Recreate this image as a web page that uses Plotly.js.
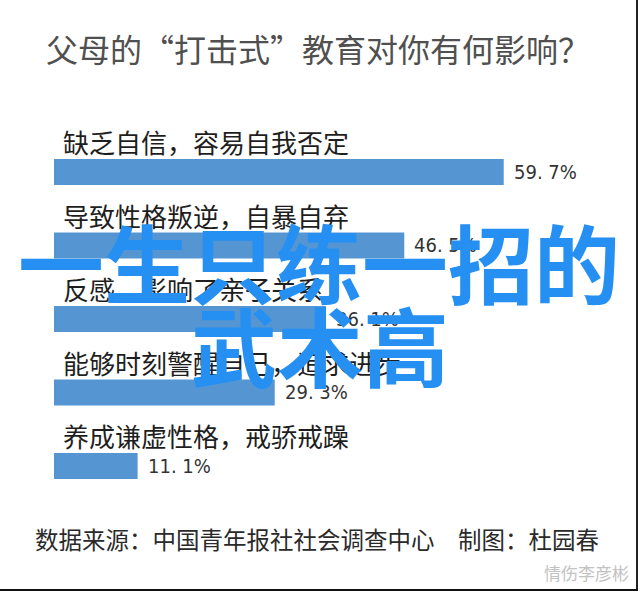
<!DOCTYPE html>
<html>
<head>
<meta charset="utf-8">
<script src="https://cdn.plot.ly/plotly-3.0.1.min.js"></script>
<style>html,body{margin:0;padding:0;background:#fff;}#chart{width:640px;height:593px;}</style>
</head>
<body>
<div id="chart"></div>
<script>
var categories = ["缺乏自信，容易自我否定", "导致性格叛逆，自暴自弃", "反感，影响了亲子关系", "能够时刻警醒自己，追求进步", "养成谦虚性格，戒骄戒躁"];
var values = [59.7, 46.5, 36.1, 29.3, 11.1];
var titleText = "父母的“打击式”教育对你有何影响？";
var footerText = "数据来源：中国青年报社社会调查中心　制图：杜园春";
var watermarkLines = ["一生只练一招的", "武术高"];
var cornerMark = "情伤李彦彬";

var W = 640, H = 593, ML = 54, MR = 21;
function px(x){ return (x - ML) / (W - ML - MR); }
function py(y){ return 1 - y / H; }
var CJK = "Noto Sans CJK SC, Noto Sans, sans-serif";

var annotations = [];
categories.forEach(function(c){
  annotations.push({xref:'x', yref:'y', x:0, y:c, xanchor:'left', yanchor:'middle', xshift:7, yshift:30,
    text:c, showarrow:false, font:{family:CJK, size:26, color:'#1e1e1e'}});
});
values.forEach(function(v, i){
  annotations.push({xref:'x', yref:'y', x:v, y:categories[i], xanchor:'left', yanchor:'middle', xshift:8, yshift:0,
    text: v.toFixed(1).replace('.', '. ') + '%', showarrow:false,
    font:{family:"Liberation Sans Narrow, DejaVu Sans Condensed, sans-serif", size:20, color:'#333333'}});
});
annotations.push({xref:'paper', yref:'paper', x:px(317), y:py(539), xanchor:'center', yanchor:'middle',
  text: footerText, showarrow:false, font:{family:CJK, size:23.5, color:'#2a2a2a'}});
annotations.push({xref:'paper', yref:'paper', x:px(586), y:py(572), xanchor:'center', yanchor:'middle',
  text: cornerMark, showarrow:false, font:{family:CJK, size:17, color:'#c2c2c2'}});
annotations.push({xref:'paper', yref:'paper', x:px(319), y:py(260), xanchor:'center', yanchor:'middle',
  text: '<b>' + watermarkLines[0] + '</b>', showarrow:false, font:{family:CJK, size:86, color:'#2690f2'}});
annotations.push({xref:'paper', yref:'paper', x:px(320), y:py(343), xanchor:'center', yanchor:'middle',
  text: '<b>' + watermarkLines[1] + '</b>', showarrow:false, font:{family:CJK, size:86, color:'#2690f2'}});

var trace = {
  type:'bar', orientation:'h', x: values, y: categories,
  marker:{color:'#5596d2', line:{width:0}}, width:0.354, hoverinfo:'none'
};

var layout = {
  width: W, height: H,
  margin:{l:ML, r:MR, t:0, b:0, pad:0},
  paper_bgcolor:'#ffffff', plot_bgcolor:'#ffffff',
  showlegend:false,
  title:{text: titleText, x: 318 / W, xref:'container', xanchor:'center', y: py(51), yref:'container', yanchor:'middle',
    font:{family:CJK, size:32, color:'#505050'}},
  xaxis:{range:[0, 75], visible:false, fixedrange:true},
  yaxis:{type:'category', categoryorder:'array', categoryarray: categories, range:[5.728, -2.340], visible:false, fixedrange:true},
  annotations: annotations,
  shapes:[
    {type:'line', xref:'paper', yref:'paper', x0:px(637), x1:px(637), y0:py(0), y1:py(590), line:{color:'#222222', width:2}},
    {type:'line', xref:'paper', yref:'paper', x0:px(0), x1:px(638), y0:py(590), y1:py(590), line:{color:'#111111', width:2}}
  ]
};

Plotly.newPlot('chart', [trace], layout, {displayModeBar:false, staticPlot:true});
</script>
</body>
</html>
